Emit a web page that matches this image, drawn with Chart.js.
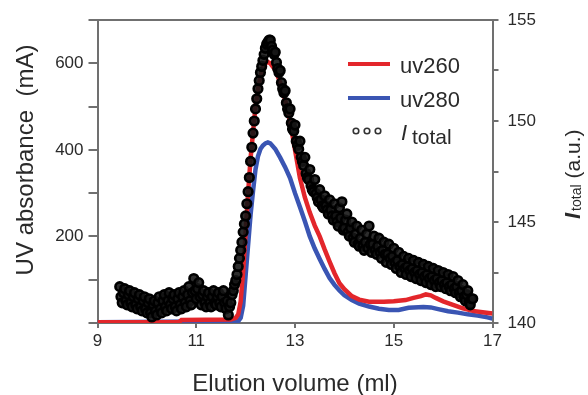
<!DOCTYPE html>
<html>
<head>
<meta charset="utf-8">
<script src="https://cdn.jsdelivr.net/npm/chart.js@4.4.0/dist/chart.umd.min.js"></script>
<style>
  html, body { margin: 0; padding: 0; background: #fff; }
  #wrap { width: 588px; height: 395px; }
</style>
</head>
<body>
<div id="wrap"><canvas id="elution" width="588" height="395"></canvas></div>
<script>
// Elution profile: UV absorbance traces (left axis) and total scattered intensity (right axis)

// uv260 trace, mA
const uv260Vol = [9.0, 10.65, 10.7, 11.7, 11.8, 11.85, 11.9, 11.95, 12.0, 12.05, 12.1, 12.15, 12.2, 12.25, 12.3, 12.35,
    12.4, 12.45, 12.5, 12.6, 12.7, 12.8, 12.9, 13.0, 13.1, 13.2, 13.3, 13.4, 13.5, 13.6, 13.7, 13.8, 13.9, 14.0,
    14.15, 14.3, 14.5, 14.8, 15.0, 15.24, 15.4, 15.55, 15.65, 15.75, 15.85, 16.0, 16.2, 16.4, 16.6, 16.8, 17.0];
const uv260Abs = [2, 2, 7, 8, 12, 20, 50, 120, 210, 300, 380, 440, 500, 540, 570, 590,
    600, 603, 600, 585, 555, 515, 465, 400, 335, 290, 255, 225, 200, 170, 142, 115, 92, 78,
    62, 54, 49, 49, 50, 53, 58, 62, 66, 64, 58, 50, 42, 34, 28, 25, 22];

// uv280 trace, mA
const uv280Vol = [9.0, 11.85, 11.9, 11.95, 12.0, 12.05, 12.1, 12.15, 12.2, 12.25, 12.3, 12.35, 12.4, 12.45, 12.5,
    12.6, 12.7, 12.8, 12.9, 13.0, 13.1, 13.2, 13.3, 13.4, 13.5, 13.6, 13.7, 13.8, 13.9, 14.0, 14.15, 14.3, 14.5,
    14.7, 14.9, 15.1, 15.3, 15.6, 15.75, 15.9, 16.1, 16.3, 16.5, 16.7, 16.9, 17.0];
const uv280Abs = [2, 4, 12, 40, 110, 180, 250, 305, 355, 385, 402, 410, 415, 417, 415,
    402, 382, 360, 335, 300, 268, 235, 200, 172, 148, 125, 104, 88, 75, 64, 53, 45, 38,
    33, 30, 30, 35, 37, 36, 32, 27, 24, 20, 17, 13, 10];

// I_total, a.u. (one row per 0.2 ml)
const totalVol = [
    9.450, 9.475, 9.500, 9.525, 9.550, 9.575, 9.600, 9.625,
    9.650, 9.675, 9.700, 9.725, 9.750, 9.775, 9.800, 9.825,
    9.850, 9.875, 9.900, 9.925, 9.950, 9.975, 10.000, 10.025,
    10.050, 10.075, 10.100, 10.125, 10.150, 10.175, 10.200, 10.225,
    10.250, 10.275, 10.300, 10.325, 10.350, 10.375, 10.400, 10.425,
    10.450, 10.475, 10.500, 10.525, 10.550, 10.575, 10.600, 10.625,
    10.650, 10.675, 10.700, 10.725, 10.750, 10.775, 10.800, 10.825,
    10.850, 10.875, 10.900, 10.925, 10.950, 10.975, 11.000, 11.025,
    11.050, 11.075, 11.100, 11.125, 11.150, 11.175, 11.200, 11.225,
    11.250, 11.275, 11.300, 11.325, 11.350, 11.375, 11.400, 11.425,
    11.450, 11.475, 11.500, 11.525, 11.550, 11.575, 11.600, 11.625,
    11.650, 11.675, 11.700, 11.725, 11.750, 11.775, 11.800, 11.825,
    11.850, 11.875, 11.900, 11.925, 11.950, 11.975, 12.000, 12.025,
    12.050, 12.075, 12.100, 12.125, 12.150, 12.175, 12.200, 12.225,
    12.250, 12.275, 12.300, 12.325, 12.350, 12.375, 12.400, 12.425,
    12.450, 12.475, 12.500, 12.525, 12.550, 12.575, 12.600, 12.625,
    12.650, 12.675, 12.700, 12.725, 12.750, 12.775, 12.800, 12.825,
    12.850, 12.875, 12.900, 12.925, 12.950, 12.975, 13.000, 13.025,
    13.050, 13.075, 13.100, 13.125, 13.150, 13.175, 13.200, 13.225,
    13.250, 13.275, 13.300, 13.325, 13.350, 13.375, 13.400, 13.425,
    13.450, 13.475, 13.500, 13.525, 13.550, 13.575, 13.600, 13.625,
    13.650, 13.675, 13.700, 13.725, 13.750, 13.775, 13.800, 13.825,
    13.850, 13.875, 13.900, 13.925, 13.950, 13.975, 14.000, 14.025,
    14.050, 14.075, 14.100, 14.125, 14.150, 14.175, 14.200, 14.225,
    14.250, 14.275, 14.300, 14.325, 14.350, 14.375, 14.400, 14.425,
    14.450, 14.475, 14.500, 14.525, 14.550, 14.575, 14.600, 14.625,
    14.650, 14.675, 14.700, 14.725, 14.750, 14.775, 14.800, 14.825,
    14.850, 14.875, 14.900, 14.925, 14.950, 14.975, 15.000, 15.025,
    15.050, 15.075, 15.100, 15.125, 15.150, 15.175, 15.200, 15.225,
    15.250, 15.275, 15.300, 15.325, 15.350, 15.375, 15.400, 15.425,
    15.450, 15.475, 15.500, 15.525, 15.550, 15.575, 15.600, 15.625,
    15.650, 15.675, 15.700, 15.725, 15.750, 15.775, 15.800, 15.825,
    15.850, 15.875, 15.900, 15.925, 15.950, 15.975, 16.000, 16.025,
    16.050, 16.075, 16.100, 16.125, 16.150, 16.175, 16.200, 16.225,
    16.250, 16.275, 16.300, 16.325, 16.350, 16.375, 16.400, 16.425,
    16.450, 16.475, 16.500, 16.525, 16.550, 16.575, 16.600];
const totalInt = [
    141.8, 141.3, 141.0, 141.5, 141.7, 141.1, 140.9, 141.4,
    141.6, 141.0, 140.8, 141.3, 141.5, 140.9, 140.7, 141.2,
    141.4, 140.8, 140.6, 141.1, 141.3, 140.7, 140.5, 141.0,
    141.2, 140.5, 140.3, 140.9, 141.1, 140.6, 140.4, 141.0,
    141.3, 140.7, 140.5, 141.1, 141.4, 140.8, 140.6, 141.1,
    141.5, 140.9, 140.7, 141.2, 141.4, 140.8, 140.6, 141.2,
    141.5, 140.9, 140.7, 141.3, 141.6, 141.0, 140.8, 141.4,
    141.8, 141.1, 140.9, 141.5, 142.2, 141.6, 141.2, 141.7,
    142.0, 141.3, 140.9, 141.4, 141.6, 141.0, 140.8, 141.3,
    141.5, 141.0, 140.8, 141.3, 141.6, 141.0, 140.9, 141.3,
    141.5, 141.0, 140.8, 141.3, 141.6, 141.0, 140.7, 141.1,
    140.4, 140.8, 141.0, 141.4, 141.6, 141.9, 142.1, 142.4,
    142.8, 143.2, 143.6, 144.0, 144.5, 144.9, 145.3, 145.9,
    146.5, 147.2, 148.0, 148.7, 149.4, 150.0, 150.6, 151.1,
    151.6, 152.0, 152.4, 152.7, 153.0, 153.3, 153.6, 153.8,
    153.9, 154.0, 154.0, 153.7, 153.5, 153.3, 153.4, 152.9,
    152.6, 152.4, 152.5, 151.9, 151.6, 151.4, 151.5, 150.9,
    150.6, 150.4, 150.6, 149.9, 149.6, 149.5, 149.8, 149.0,
    148.8, 148.6, 149.0, 148.2, 148.0, 147.8, 148.2, 147.4,
    147.2, 147.1, 147.6, 146.8, 146.6, 146.5, 147.1, 146.4,
    146.2, 146.0, 146.6, 146.1, 145.8, 145.7, 146.3, 145.8,
    145.6, 145.4, 146.1, 145.6, 145.3, 145.1, 145.9, 145.3,
    145.0, 144.8, 145.7, 145.2, 146.0, 144.6, 144.7, 145.1,
    145.4, 144.5, 144.3, 144.7, 145.0, 144.2, 144.0, 144.4,
    144.8, 143.9, 143.8, 144.2, 144.6, 143.8, 143.6, 144.0,
    144.4, 143.7, 144.8, 143.9, 143.5, 143.9, 144.3, 143.6,
    143.4, 143.8, 144.2, 143.5, 143.2, 143.6, 144.0, 143.4,
    143.0, 143.4, 143.9, 143.2, 142.9, 143.3, 143.7, 143.0,
    142.7, 143.1, 143.5, 142.8, 142.5, 142.9, 143.3, 142.7,
    142.4, 142.8, 143.2, 142.6, 142.3, 142.7, 143.1, 142.5,
    142.2, 142.6, 143.0, 142.4, 142.1, 142.5, 142.9, 142.3,
    142.0, 142.4, 142.8, 142.2, 141.9, 142.3, 142.7, 142.1,
    141.8, 142.2, 142.6, 142.0, 141.8, 142.1, 142.5, 141.9,
    141.7, 142.0, 142.4, 141.8, 141.6, 141.9, 142.3, 141.7,
    141.5, 141.8, 142.1, 141.5, 141.3, 141.6, 141.9, 141.3,
    141.1, 141.4, 141.6, 141.0, 140.9, 141.2, 141.2];

const xTicksStep = 2;
const leftLabels = [200, 400, 600];
const rightLabels = [140, 145, 150, 155];

const FONT = '"Liberation Sans", Arial, sans-serif';
const AXIS = '#707070';
const TXT = '#2a2a2a';
const RED = '#e3262b';
const BLUE = '#3a55b3';

const pts = (xs, ys) => xs.map((x, i) => ({ x, y: ys[i] }));

// top edge of the frame, axis titles and the legend block
const decorations = {
    id: 'decorations',
    afterDraw(chart) {
        const { ctx, chartArea: a } = chart;
        ctx.save();
        ctx.strokeStyle = AXIS; ctx.lineWidth = 2;
        ctx.beginPath(); ctx.moveTo(a.left - 1, a.top); ctx.lineTo(a.right + 1, a.top); ctx.stroke();

        ctx.fillStyle = TXT;
        ctx.textBaseline = 'alphabetic';

        // x title
        ctx.font = `24px ${FONT}`;
        ctx.textAlign = 'center';
        ctx.fillText('Elution volume (ml)', (a.left + a.right) / 2, 391);

        // left title
        ctx.save();
        ctx.translate(33, 160); ctx.rotate(-Math.PI / 2);
        ctx.fillText('UV absorbance  (mA)', 0, 0);
        ctx.restore();

        // right title: I_total (a.u.)
        ctx.save();
        ctx.translate(580, 219); ctx.rotate(-Math.PI / 2);
        ctx.textAlign = 'left';
        ctx.font = `italic bold 22px ${FONT}`;
        ctx.fillText('I', 0, 0);
        let w = ctx.measureText('I').width + 2;
        ctx.font = `14px ${FONT}`;
        ctx.fillText('total', w, 1);
        w += ctx.measureText('total').width + 6;
        ctx.font = `21px ${FONT}`;
        ctx.fillText('(a.u.)', w, 0);
        ctx.restore();

        // legend
        ctx.textAlign = 'left';
        ctx.lineWidth = 4;
        [[RED, 'uv260', 64], [BLUE, 'uv280', 98]].forEach(([c, t, y]) => {
            ctx.strokeStyle = c;
            ctx.beginPath(); ctx.moveTo(348, y); ctx.lineTo(390, y); ctx.stroke();
            ctx.font = `22px ${FONT}`;
            ctx.fillText(t, 400, y + 9);
        });
        ctx.strokeStyle = '#333'; ctx.lineWidth = 1.6;
        [356, 367, 378].forEach(x => {
            ctx.beginPath(); ctx.arc(x, 131, 2.8, 0, Math.PI * 2); ctx.stroke();
        });
        ctx.font = `italic 22px ${FONT}`;
        ctx.fillText('I', 401, 140);
        ctx.font = `21px ${FONT}`;
        ctx.fillText('total', 412, 144);
        ctx.restore();
    }
};

const axisGrid = len => ({ drawOnChartArea: false, tickLength: len, color: AXIS, lineWidth: 2 });
const axisBorder = { color: AXIS, width: 2 };
const tickFont = { family: FONT, size: 17 };

new Chart(document.getElementById('elution'), {
    type: 'scatter',
    data: {
        datasets: [
            {
                label: 'I total', data: pts(totalVol, totalInt), yAxisID: 'y2', showLine: false,
                pointRadius: 4.3, pointBorderWidth: 2.6, pointBorderColor: '#000',
                pointBackgroundColor: 'rgba(22,22,22,0.9)'
            },
            {
                label: 'uv260', data: pts(uv260Vol, uv260Abs), yAxisID: 'y', showLine: true,
                borderColor: RED, borderWidth: 4.5, pointRadius: 0, tension: 0
            },
            {
                label: 'uv280', data: pts(uv280Vol, uv280Abs), yAxisID: 'y', showLine: true,
                borderColor: BLUE, borderWidth: 4.5, pointRadius: 0, tension: 0
            }
        ]
    },
    options: {
        responsive: false, animation: false, events: [],
        layout: { padding: { top: 20, left: 0, right: 0, bottom: 0 } },
        plugins: { legend: { display: false }, tooltip: { enabled: false } },
        scales: {
            x: {
                type: 'linear', min: 9, max: 17,
                afterFit: s => { s.height = 72; },
                ticks: { stepSize: xTicksStep, color: TXT, font: tickFont, padding: 3, maxRotation: 0 },
                grid: axisGrid(5), border: axisBorder
            },
            y: {
                position: 'left', min: 0, max: 700,
                afterFit: s => { s.width = 97.5; },
                ticks: { stepSize: 100, color: TXT, font: tickFont, padding: 5,
                    callback: v => leftLabels.includes(v) ? v : '' },
                grid: axisGrid(9), border: axisBorder
            },
            y2: {
                position: 'right', min: 140, max: 155,
                afterFit: s => { s.width = 95.5; },
                ticks: { stepSize: 2.5, color: TXT, font: tickFont, padding: 9,
                    callback: v => rightLabels.includes(v) ? v : '' },
                grid: axisGrid(6), border: axisBorder
            }
        }
    },
    plugins: [decorations]
});
</script>
</body>
</html>
